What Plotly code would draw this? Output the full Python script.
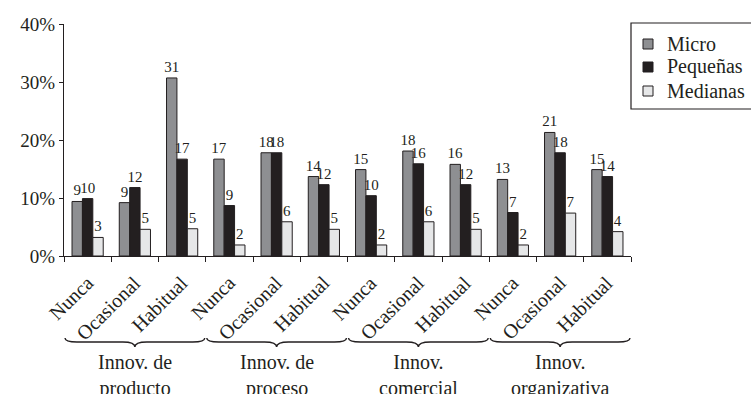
import plotly.graph_objects as go

categories = ["Nunca", "Ocasional", "Habitual"] * 4
groups = ["Innov. de<br>producto", "Innov. de<br>proceso", "Innov.<br>comercial", "Innov.<br>organizativa"]

micro = [9.4, 9.2, 30.7, 16.7, 17.8, 13.7, 14.9, 18.1, 15.8, 13.2, 21.3, 14.9]
pequenas = [9.9, 11.8, 16.7, 8.7, 17.8, 12.3, 10.4, 15.9, 12.3, 7.5, 17.8, 13.7]
medianas = [3.2, 4.6, 4.7, 1.9, 5.9, 4.6, 1.9, 5.9, 4.6, 1.9, 7.4, 4.2]

micro_lbl = ["9", "9", "31", "17", "18", "14", "15", "18", "16", "13", "21", "15"]
peq_lbl = ["10", "12", "17", "9", "18", "12", "10", "16", "12", "7", "18", "14"]
med_lbl = ["3", "5", "5", "2", "6", "5", "2", "6", "5", "2", "7", "4"]

y_ticks = [0, 10, 20, 30, 40]
y_ticklabels = ["0%", "10%", "20%", "30%", "40%"]

FONT = "Liberation Serif"
TXT = "#231f20"

xs = list(range(len(categories)))
n = len(categories)
PH = 232.0
PW = 567.0

fig = go.Figure()
series = [
    ("Micro", micro, micro_lbl, "#8e8f92"),
    ("Pequeñas", pequenas, peq_lbl, "#231f20"),
    ("Medianas", medianas, med_lbl, "#e6e7e8"),
]
for name, vals, lbl, col in series:
    fig.add_trace(go.Bar(
        x=xs, y=vals, name=name, text=lbl, textposition="outside",
        constraintext="none", cliponaxis=False,
        textfont=dict(family=FONT, size=15, color=TXT),
        marker=dict(color=col, line=dict(color="#231f20", width=1)),
        showlegend=False,
    ))

shapes = []
annotations = []

# category labels (rotated)
for i, c in enumerate(categories):
    annotations.append(dict(xref="x", yref="paper", x=i + 0.26, y=-13 / PH,
                            xanchor="right", yanchor="top", textangle=-45,
                            showarrow=False, text=c,
                            font=dict(family=FONT, size=20, color=TXT)))

# braces and group labels
yt, ym, yb = -82 / PH, -86 / PH, -91 / PH
r = 12 / PW
for g in range(4):
    x0 = (g * 3) / n + 1 / PW
    x1 = (g * 3 + 3) / n - 1 / PW
    xm = (x0 + x1) / 2
    path = (f"M {x0},{yt} Q {x0},{ym} {x0+r},{ym} L {xm-r},{ym} Q {xm},{ym} {xm},{yb} "
            f"Q {xm},{ym} {xm+r},{ym} L {x1-r},{ym} Q {x1},{ym} {x1},{yt}")
    shapes.append(dict(type="path", xref="paper", yref="paper", path=path,
                       line=dict(color=TXT, width=1.4)))
    annotations.append(dict(xref="paper", yref="paper", x=xm, y=-93 / PH, yanchor="top",
                            xanchor="center", showarrow=False, text=groups[g],
                            font=dict(family=FONT, size=20, color=TXT)))

# legend (box, swatches, labels)
def px_x(p):
    return (p - 64) / PW

def px_y(p):
    return (256 - p) / PH

shapes.append(dict(type="rect", xref="paper", yref="paper",
                   x0=px_x(631), x1=px_x(760), y0=px_y(109), y1=px_y(23),
                   line=dict(color=TXT, width=1.2), fillcolor="white"))
row_y = [44, 67, 91]
for (name, _, _, col), ry in zip(series, row_y):
    shapes.append(dict(type="rect", xref="paper", yref="paper",
                       x0=px_x(643), x1=px_x(653), y0=px_y(ry + 5), y1=px_y(ry - 5),
                       line=dict(color=TXT, width=1), fillcolor=col))
    annotations.append(dict(xref="paper", yref="paper", x=px_x(665), y=px_y(ry),
                            xanchor="left", yanchor="middle", showarrow=False,
                            text=name, font=dict(family=FONT, size=20, color=TXT)))

fig.update_layout(
    width=751, height=394,
    margin=dict(l=64, r=120, t=24, b=138, autoexpand=False),
    paper_bgcolor="white", plot_bgcolor="white",
    barmode="group", bargap=0.34, bargroupgap=0,
    font=dict(family=FONT, color=TXT),
    shapes=shapes, annotations=annotations,
    showlegend=False,
)
fig.update_xaxes(
    range=[-0.5, n - 0.5], tickvals=xs, showticklabels=False,
    ticks="", showline=True, linecolor="#231f20", linewidth=1, showgrid=False,
    zeroline=False,
    minor=dict(tickvals=[i - 0.5 for i in range(n + 1)], ticks="outside",
               ticklen=5, tickcolor="#231f20", showgrid=False),
)
fig.update_yaxes(
    range=[0, 40], tickvals=y_ticks, ticktext=y_ticklabels, ticks="outside",
    ticklen=4, tickcolor="#231f20", showline=True, linecolor="#231f20",
    linewidth=1, showgrid=False, zeroline=False,
    tickfont=dict(family=FONT, size=19, color=TXT),
)

fig.write_html("out.html")
